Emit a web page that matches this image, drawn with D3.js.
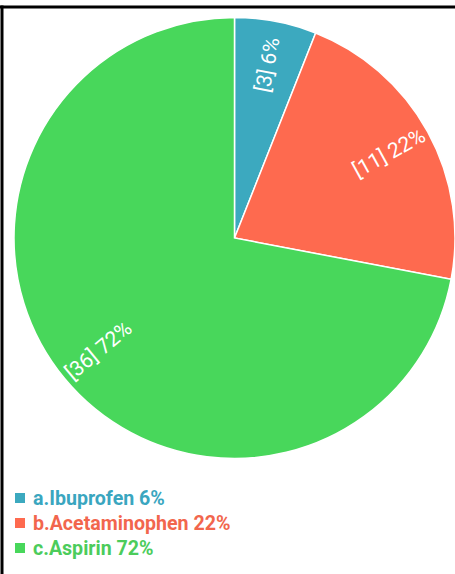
<!DOCTYPE html>
<html>
<head>
<meta charset="utf-8">
<script src="https://cdn.jsdelivr.net/npm/d3@7"></script>
<style>
  html, body { margin: 0; padding: 0; background: #fff; }
  svg { display: block; }
</style>
</head>
<body>
<svg id="chart" width="455" height="574"></svg>
<script>
// Medication counts shown in the pie
const categories = ["a.Ibuprofen", "b.Acetaminophen", "c.Aspirin"];
const counts = [3, 11, 36];
const percents = [6, 22, 72];
const colors = ["#3ca9bf", "#fe6a4f", "#48d75b"];
const legendColors = ["#3aa6bf", "#f2664d", "#4ccc5b"];

const W = 455, H = 574;
const cx = 234.5, cy = 238, radius = 220.5;

const svg = d3.select("#chart");

// frame lines along the top and left
svg.append("line").attr("x1", 0).attr("x2", W).attr("y1", 7).attr("y2", 7)
  .attr("stroke", "#000").attr("stroke-width", 3);
svg.append("line").attr("x1", 2).attr("x2", 2).attr("y1", 5.5).attr("y2", H)
  .attr("stroke", "#000").attr("stroke-width", 3);

const data = categories.map((c, i) => ({ name: c, count: counts[i], pct: percents[i], color: colors[i], legend: legendColors[i] }));

const pie = d3.pie().sort(null).value(d => d.count);
const arcs = pie(data);
const arc = d3.arc().innerRadius(0).outerRadius(radius);

const g = svg.append("g").attr("transform", `translate(${cx},${cy})`);

g.selectAll("path.slice").data(arcs).join("path")
  .attr("class", "slice")
  .attr("d", arc)
  .attr("fill", d => d.data.color)
  .attr("stroke", "#ffffff")
  .attr("stroke-width", 1.5);

// radial labels, rotated along each slice's bisector
const labelR = radius * 0.8;
g.selectAll("text.lbl").data(arcs).join("text")
  .attr("class", "lbl")
  .attr("transform", d => {
    const a = (d.startAngle + d.endAngle) / 2;
    const x = labelR * Math.sin(a), y = -labelR * Math.cos(a);
    let deg = a * 180 / Math.PI - 90;
    if (a > Math.PI) deg -= 180;
    return `translate(${x},${y}) rotate(${deg})`;
  })
  .attr("text-anchor", "middle")
  .attr("dominant-baseline", "central")
  .attr("fill", "#ffffff")
  .attr("font-family", "Roboto, 'Open Sans', sans-serif")
  .attr("font-weight", 400)
  .attr("font-size", 21)
  .text(d => `[${d.data.count}] ${d.data.pct}%`);

// legend
const legend = svg.append("g").attr("transform", "translate(15,498)");
const rows = legend.selectAll("g").data(data).join("g")
  .attr("transform", (d, i) => `translate(0,${i * 25})`);
rows.append("rect").attr("x", 0).attr("y", -5).attr("width", 10).attr("height", 10)
  .attr("fill", d => d.color);
rows.append("text").attr("x", 18).attr("y", 0.5)
  .attr("dominant-baseline", "central")
  .attr("fill", d => d.legend)
  .attr("font-family", "Roboto, 'Open Sans', sans-serif")
  .attr("font-weight", 700)
  .attr("font-size", 19.6)
  .text(d => `${d.name} ${d.pct}%`);
</script>
</body>
</html>
